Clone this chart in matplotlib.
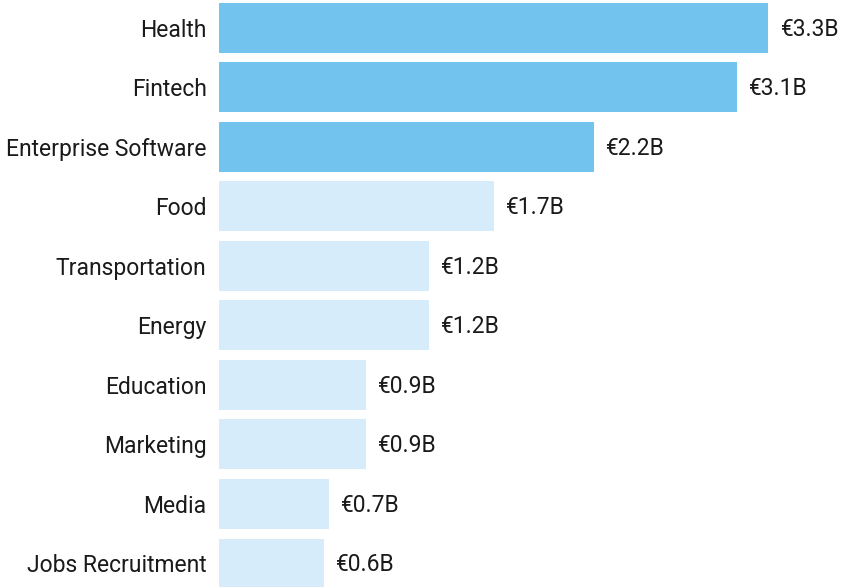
import matplotlib
matplotlib.use("Agg")
import matplotlib.pyplot as plt

sectors = ["Health", "Fintech", "Enterprise Software", "Food", "Transportation",
           "Energy", "Education", "Marketing", "Media", "Jobs Recruitment"]
funding = [3.30, 3.11, 2.25, 1.65, 1.26, 1.26, 0.88, 0.88, 0.66, 0.63]
funding_labels = ["€3.3B", "€3.1B", "€2.2B", "€1.7B", "€1.2B",
                  "€1.2B", "€0.9B", "€0.9B", "€0.7B", "€0.6B"]
top_n = 3

plt.rcParams["font.family"] = ["Roboto", "DejaVu Sans"]

fig = plt.figure(figsize=(8.41, 5.87), dpi=100)
ax = fig.add_axes([219 / 841, 0, 622 / 841, 1])

colors = ["#72c4ef" if i < top_n else "#d7ecfa" for i in range(len(sectors))]
pos = list(range(len(sectors)))
ax.barh(pos, funding, height=0.84, color=colors)

for p, v, lab in zip(pos, funding, funding_labels):
    ax.annotate(lab, (v, p), xytext=(9, -1), textcoords="offset points",
                va="center", ha="left", fontsize=16.5, color="#1a1a1a")

ax.set_yticks(pos)
ax.set_yticklabels(sectors, fontsize=16.5, color="#1a1a1a")
ax.tick_params(axis="y", length=0, pad=9)
ax.set_xticks([])
ax.set_xlim(0, 622 / 166.5)
ax.set_ylim(9.395, -0.47)
for s in ax.spines.values():
    s.set_visible(False)

fig.savefig("out.png", dpi=100)
